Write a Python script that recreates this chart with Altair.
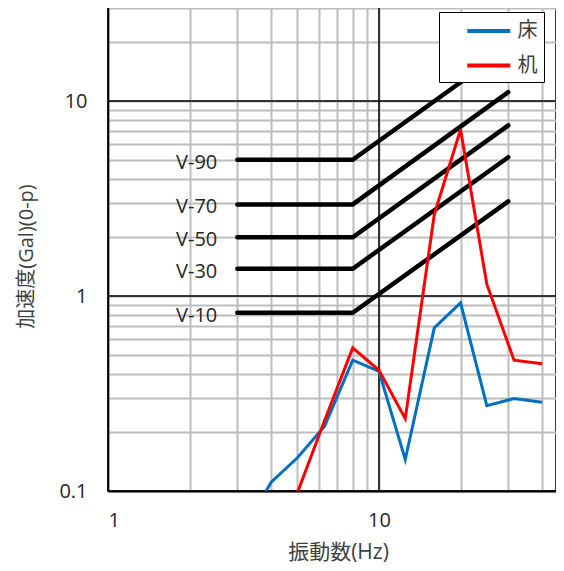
import json
import altair as alt
import pandas as pd

# ---- data ----
freq_floor = [3.15, 4, 5, 6.3, 8, 10, 12.5, 16, 20, 25, 31.5, 40]
acc_floor = [0.062, 0.111, 0.148, 0.215, 0.469, 0.411, 0.145, 0.687, 0.923, 0.274, 0.298, 0.285]
freq_desk = [5, 6.3, 8, 10, 12.5, 16, 20, 25, 31.5, 40]
acc_desk = [0.098, 0.23, 0.542, 0.416, 0.235, 2.62, 7.14, 1.15, 0.469, 0.449]
series_names = ["床", "机"]
series_colors = ["#0070C0", "#FF0000"]

v_names = ["V-90", "V-70", "V-50", "V-30", "V-10"]
v_flat = [5.0, 2.95, 2.0, 1.38, 0.82]
v_end = [18.7, 11.1, 7.5, 5.15, 3.06]
v_freq = [3, 8, 30]

x_grid = [1, 2, 3, 4, 5, 6, 7, 8, 9, 10, 20, 30, 40]
y_grid = [0.1, 0.2, 0.3, 0.4, 0.5, 0.6, 0.7, 0.8, 0.9,
          1, 2, 3, 4, 5, 6, 7, 8, 9, 10, 20, 30]
x_major = [1, 10]
y_major = [0.1, 1, 10]
x_labels = [1, 10]
y_labels = [0.1, 1, 10]
x_domain = [1, 45]
y_domain = [0.1, 30]

# ---- tables ----
rows = []
for f, a in zip(freq_floor, acc_floor):
    rows.append({"f": f, "a": a, "s": series_names[0]})
for f, a in zip(freq_desk, acc_desk):
    rows.append({"f": f, "a": a, "s": series_names[1]})
df_data = pd.DataFrame(rows)

vrows = []
for n, lv, le in zip(v_names, v_flat, v_end):
    for f, a in zip(v_freq, [lv, lv, le]):
        vrows.append({"f": f, "a": a, "name": n})
df_v = pd.DataFrame(vrows)
df_vlab = pd.DataFrame({"f": [v_freq[0]] * len(v_names), "a": v_flat, "name": v_names})

LAB_FONT = "Open Sans"
TITLE_FONT = "Open Sans, Noto Sans CJK JP"

xscale = alt.Scale(type="log", domain=x_domain, nice=False)
yscale = alt.Scale(type="log", domain=y_domain, nice=False)

xaxis = alt.Axis(
    values=x_grid, format="~g",
    labelExpr=f"indexof({json.dumps(x_labels)}, datum.value) >= 0 ? datum.label : ''",
    labelOverlap=False, ticks=False, labelPadding=19,
    labelFont=LAB_FONT, labelFontSize=20, labelColor="#262626",
    grid=True, gridColor="#bdbdbd", gridWidth=2,
    domainColor="black", domainWidth=2,
    title="振動数(Hz)", titleFont=TITLE_FONT, titleFontSize=21,
    titleFontWeight="normal", titleColor="#404040",
    titleX=230, titleY=61, titleAlign="center", titleBaseline="middle",
)
yaxis = alt.Axis(
    values=y_grid, format="~g",
    labelExpr=f"indexof({json.dumps(y_labels)}, datum.value) >= 0 ? datum.label : ''",
    labelOverlap=False, ticks=False, labelPadding=21,
    labelFont=LAB_FONT, labelFontSize=20, labelColor="#262626",
    grid=True, gridColor="#bdbdbd", gridWidth=2,
    domainColor="black", domainWidth=1.5,
    title="加速度(Gal)(0-p)", titleFont=TITLE_FONT, titleFontSize=20,
    titleFontWeight="normal", titleColor="#404040",
    titleX=-82, titleY=248, titleAngle=270, titleAlign="center", titleBaseline="middle",
)

X = alt.X("f:Q", scale=xscale, axis=xaxis)
Y = alt.Y("a:Q", scale=yscale, axis=yaxis)

rule_x = alt.Chart(pd.DataFrame({"f": x_major})).mark_rule(color="black", strokeWidth=1.5).encode(x=X)
rule_y = alt.Chart(pd.DataFrame({"a": y_major})).mark_rule(color="black", strokeWidth=1.5).encode(y=Y)

vlines = alt.Chart(df_v).mark_line(color="black", strokeWidth=4.5, strokeCap="round", clip=True).encode(
    x=X, y=Y, detail="name:N", order="f:Q")
vlabels = alt.Chart(df_vlab).mark_text(align="right", baseline="middle", dx=-20, dy=3,
                                       font=LAB_FONT, fontSize=20, color="#262626").encode(
    x=X, y=Y, text="name:N")

lines = alt.Chart(df_data).mark_line(strokeWidth=3, clip=True).encode(
    x=X, y=Y, order="f:Q",
    color=alt.Color("s:N", scale=alt.Scale(domain=series_names, range=series_colors),
                    sort=series_names,
                    legend=alt.Legend(
                        title=None, orient="none", legendX=331, legendY=4,
                        fillColor="white", strokeColor="black", padding=6,
                        symbolType="M-2,0H2", symbolSize=462, symbolStrokeWidth=4,
                        symbolOffset=30.75, labelOffset=15.75, rowPadding=11.5,
                        labelFont="Noto Sans CJK JP", labelFontSize=20, labelColor="#404040",
                        labelExpr="datum.label + '\u00a0\u00a0\u00a0'")),
)

chart = alt.layer(rule_x, rule_y, vlines, vlabels, lines).properties(
    width=448, height=483,
    autosize=alt.AutoSizeParams(type="none"),
    padding={"left": 100, "top": 0, "right": 0, "bottom": 72},
).configure_view(stroke="black", strokeWidth=1.5)

chart.save("out.html", embed_options={"renderer": "svg", "actions": False})
